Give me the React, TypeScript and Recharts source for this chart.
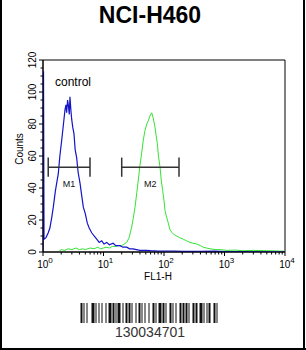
import React from 'react'
import {
  LineChart,
  Line,
  XAxis,
  YAxis,
  ReferenceArea,
  ReferenceLine,
  ReferenceDot,
} from 'recharts'

const title = 'NCI-H460'
const barcodeText = '130034701'
const xAxisLabel = 'FL1-H'
const yAxisLabel = 'Counts'
const controlLabel = 'control'

// FL1-H channel values (log scale) and counts
const controlX = [
  1.0, 1.02, 1.04, 1.12, 1.22, 1.3, 1.4, 1.48, 1.6, 1.7, 1.79, 1.9, 2.04, 2.15,
  2.31, 2.4, 2.46, 2.55, 2.62, 2.72, 2.79, 2.9, 2.98, 3.1, 3.25, 3.4, 3.6, 3.8,
  4.09, 4.3, 4.64, 5.0, 5.4, 5.8, 6.38, 7.0, 7.72, 8.5, 9.34, 10.2, 11.3, 12.5,
  14.4, 16, 18.7, 21, 24.2, 27, 30.7, 35, 40, 50, 60, 80, 100, 150, 200, 400,
  700, 1000, 2000, 4000, 10000,
]
const controlCounts = [
  0, 113, 8, 9, 12, 15, 22, 28, 38, 44, 49, 60, 70, 78, 89, 92, 87, 95, 92, 86,
  97, 88, 83, 78, 74, 64, 59, 50, 43, 37, 28, 24, 18, 15, 12, 10, 8, 6, 7, 5, 6,
  4.5, 5.5, 4, 4, 3, 3, 2, 2, 1.5, 1, 1, 0.8, 0.6, 0.5, 0.5, 0.4, 0.4, 0.5, 0.3,
  0.2, 0.1, 0.1,
]

const sampleX = [
  1.8, 2, 2.3, 2.6, 3, 3.5, 4, 4.5, 5, 6, 7, 8, 9, 10, 11, 12.5, 14, 16, 18, 20,
  22, 24.2, 26.5, 29.2, 31, 33.2, 35.5, 37.6, 40, 42.8, 45.5, 48.5, 52, 55, 58.5,
  62.7, 66, 71, 74, 77.4, 81, 86, 90, 95, 100, 104, 110, 118, 125, 134, 145, 162,
  180, 208, 235, 269, 300, 347, 400, 447, 500, 576, 700, 843, 1100, 1500, 2000,
  3000, 5000, 10000,
]
const sampleCounts = [
  0, 1.5, 1, 2, 1.5, 2.5, 1.5, 2, 1.5, 2.5, 2, 3, 2, 2.5, 3, 2.5, 3.5, 3.5, 4, 4,
  5, 6, 9, 15.5, 21, 28, 37, 45, 54, 62, 70, 76, 80, 82, 85, 87, 84, 78, 73, 68,
  60, 53, 45, 38.5, 32, 26, 22, 18, 14, 12.4, 11, 10, 9, 8, 7, 6, 5.5, 5, 4, 3,
  2.5, 2, 1.5, 1.5, 1, 1.2, 0.8, 1, 0.8, 0.5,
]

// marker gates
const markerNames = ['M1', 'M2']
const markerStart = [1.22, 20]
const markerEnd = [5.98, 177]
const markerLevel = 53

const xDecades = [1, 10, 100, 1000, 10000]
const xTicks = xDecades.flatMap((d, i) =>
  i < xDecades.length - 1 ? [2, 3, 4, 5, 6, 7, 8, 9].map((m) => m * d).concat(d) : [d]
).sort((a, b) => a - b)
const yTicks = Array.from({ length: 25 }, (_, i) => i * 5)

// bar / space widths of the barcode strip
const barcodePattern = '2112143112121312312111321221211312211213132112312113211213212121132122311211232112'

const controlData = controlX.map((x, i) => ({ x, y: controlCounts[i] }))
const sampleData = sampleX.map((x, i) => ({ x, y: sampleCounts[i] }))

const font = 'Arial, "Liberation Sans", sans-serif'

function XTick(props: any) {
  const { x, y, payload } = props
  const v = payload.value
  const exp = Math.round(Math.log10(v))
  const major = Math.abs(Math.pow(10, exp) - v) < 1e-6
  return (
    <g>
      <line x1={x} x2={x} y1={y} y2={y + (major ? 4 : 2.5)} stroke="#000" />
      {major && (
        <text x={x + 2} y={y + 16} textAnchor="middle" fontSize={10} fontFamily={font} fill="#000">
          10
          <tspan dy={-5} fontSize={8}>
            {exp}
          </tspan>
        </text>
      )}
    </g>
  )
}

function YTick(props: any) {
  const { x, y, payload } = props
  const v = payload.value
  const major = v % 20 === 0
  return (
    <g>
      <line x1={x - (major ? 4 : 2.5)} x2={x} y1={y} y2={y} stroke="#000" />
      {major && (
        <text
          x={x - 7}
          y={y}
          transform={`rotate(-90 ${x - 7} ${y})`}
          textAnchor="middle"
          fontSize={10}
          fontFamily={font}
          fill="#000"
        >
          {v}
        </text>
      )}
    </g>
  )
}

function Barcode() {
  const widths = barcodePattern.split('').map(Number)
  const total = widths.reduce((a, b) => a + b, 0)
  let pos = 150 - total / 2
  const bars: React.ReactNode[] = []
  widths.forEach((w, i) => {
    if (i % 2 === 0) bars.push(<rect key={i} x={pos} y={303} width={w} height={20} fill="#111" />)
    pos += w
  })
  return <g>{bars}</g>
}

export default function App() {
  return (
    <div style={{ position: 'absolute', left: 0, top: 0, width: 306, height: 350, background: '#fff' }}>
      <LineChart
        width={306}
        height={350}
        margin={{ top: 60, right: 21, bottom: 68, left: 18 }}
      >
        <XAxis
          type="number"
          dataKey="x"
          scale="log"
          domain={[1, 10000]}
          allowDataOverflow
          ticks={xTicks}
          interval={0}
          tick={<XTick />}
          tickLine={false}
          tickSize={0}
          tickMargin={0}
          height={30}
          stroke="#000"
          label={{
            content: (p: any) => (
              <text
                x={p.viewBox.x + p.viewBox.width / 2 - 6}
                y={p.viewBox.y + 27.5}
                textAnchor="middle"
                fontSize={10}
                fontFamily={font}
                fill="#000"
              >
                {xAxisLabel}
              </text>
            ),
          }}
        />
        <YAxis
          type="number"
          dataKey="y"
          domain={[0, 120]}
          allowDataOverflow
          ticks={yTicks}
          interval={0}
          tick={<YTick />}
          tickLine={false}
          tickSize={0}
          tickMargin={0}
          width={25}
          stroke="#000"
          label={{
            content: (p: any) => {
              const lx = p.viewBox.x + 5
              const ly = p.viewBox.y + p.viewBox.height / 2 - 7
              return (
                <text
                  x={lx}
                  y={ly}
                  transform={`rotate(-90 ${lx} ${ly})`}
                  textAnchor="middle"
                  fontSize={10}
                  fontFamily={font}
                  fill="#000"
                >
                  {yAxisLabel}
                </text>
              )
            },
          }}
        />
        <ReferenceArea x1={1} x2={10000} y1={0} y2={120} fill="none" stroke="#000" strokeWidth={1} />
        <Line
          data={sampleData}
          dataKey="y"
          type="linear"
          stroke="#35e235"
          strokeWidth={1}
          dot={false}
          isAnimationActive={false}
        />
        <Line
          data={controlData}
          dataKey="y"
          type="linear"
          stroke="#1414c8"
          strokeWidth={1.2}
          dot={false}
          isAnimationActive={false}
        />
        {markerNames.map((name, i) => (
          <ReferenceLine
            key={name + 'h'}
            segment={[
              { x: markerStart[i], y: markerLevel },
              { x: markerEnd[i], y: markerLevel },
            ]}
            stroke="#333"
            strokeWidth={1.5}
          />
        ))}
        {markerNames.map((name, i) => (
          <ReferenceLine
            key={name + 'a'}
            segment={[
              { x: markerStart[i], y: markerLevel - 6 },
              { x: markerStart[i], y: markerLevel + 6 },
            ]}
            stroke="#333"
            strokeWidth={1.5}
          />
        ))}
        {markerNames.map((name, i) => (
          <ReferenceLine
            key={name + 'b'}
            segment={[
              { x: markerEnd[i], y: markerLevel - 6 },
              { x: markerEnd[i], y: markerLevel + 6 },
            ]}
            stroke="#333"
            strokeWidth={1.5}
          />
        ))}
        {markerNames.map((name, i) => (
          <ReferenceDot
            key={name + 't'}
            x={Math.sqrt(markerStart[i] * markerEnd[i])}
            y={markerLevel}
            r={0}
            shape={(p: any) => (
              <text x={p.cx} y={p.cy + 20} textAnchor="middle" fontSize={9} fontFamily={font} fill="#111">
                {name}
              </text>
            )}
          />
        ))}
        <ReferenceDot
          x={1.58}
          y={104}
          r={0}
          shape={(p: any) => (
            <text x={p.cx} y={p.cy} fontSize={12} fontFamily={font} fill="#000">
              {controlLabel}
            </text>
          )}
        />
      </LineChart>
      <svg
        width={306}
        height={350}
        style={{ position: 'absolute', left: 0, top: 0, pointerEvents: 'none' }}
      >
        <text x={150} y={23} textAnchor="middle" fontSize={23} fontWeight="bold" fontFamily={font} fill="#000">
          {title}
        </text>
        <Barcode />
        <text x={150} y={337} textAnchor="middle" fontSize={14} fontFamily={font} fill="#333">
          {barcodeText}
        </text>
        <line x1={1} x2={1} y1={0} y2={350} stroke="#000" strokeWidth={2} />
        <line x1={304} x2={304} y1={0} y2={350} stroke="#000" strokeWidth={2} />
        <line x1={0} x2={306} y1={349} y2={349} stroke="#000" strokeWidth={2} />
      </svg>
    </div>
  )
}
